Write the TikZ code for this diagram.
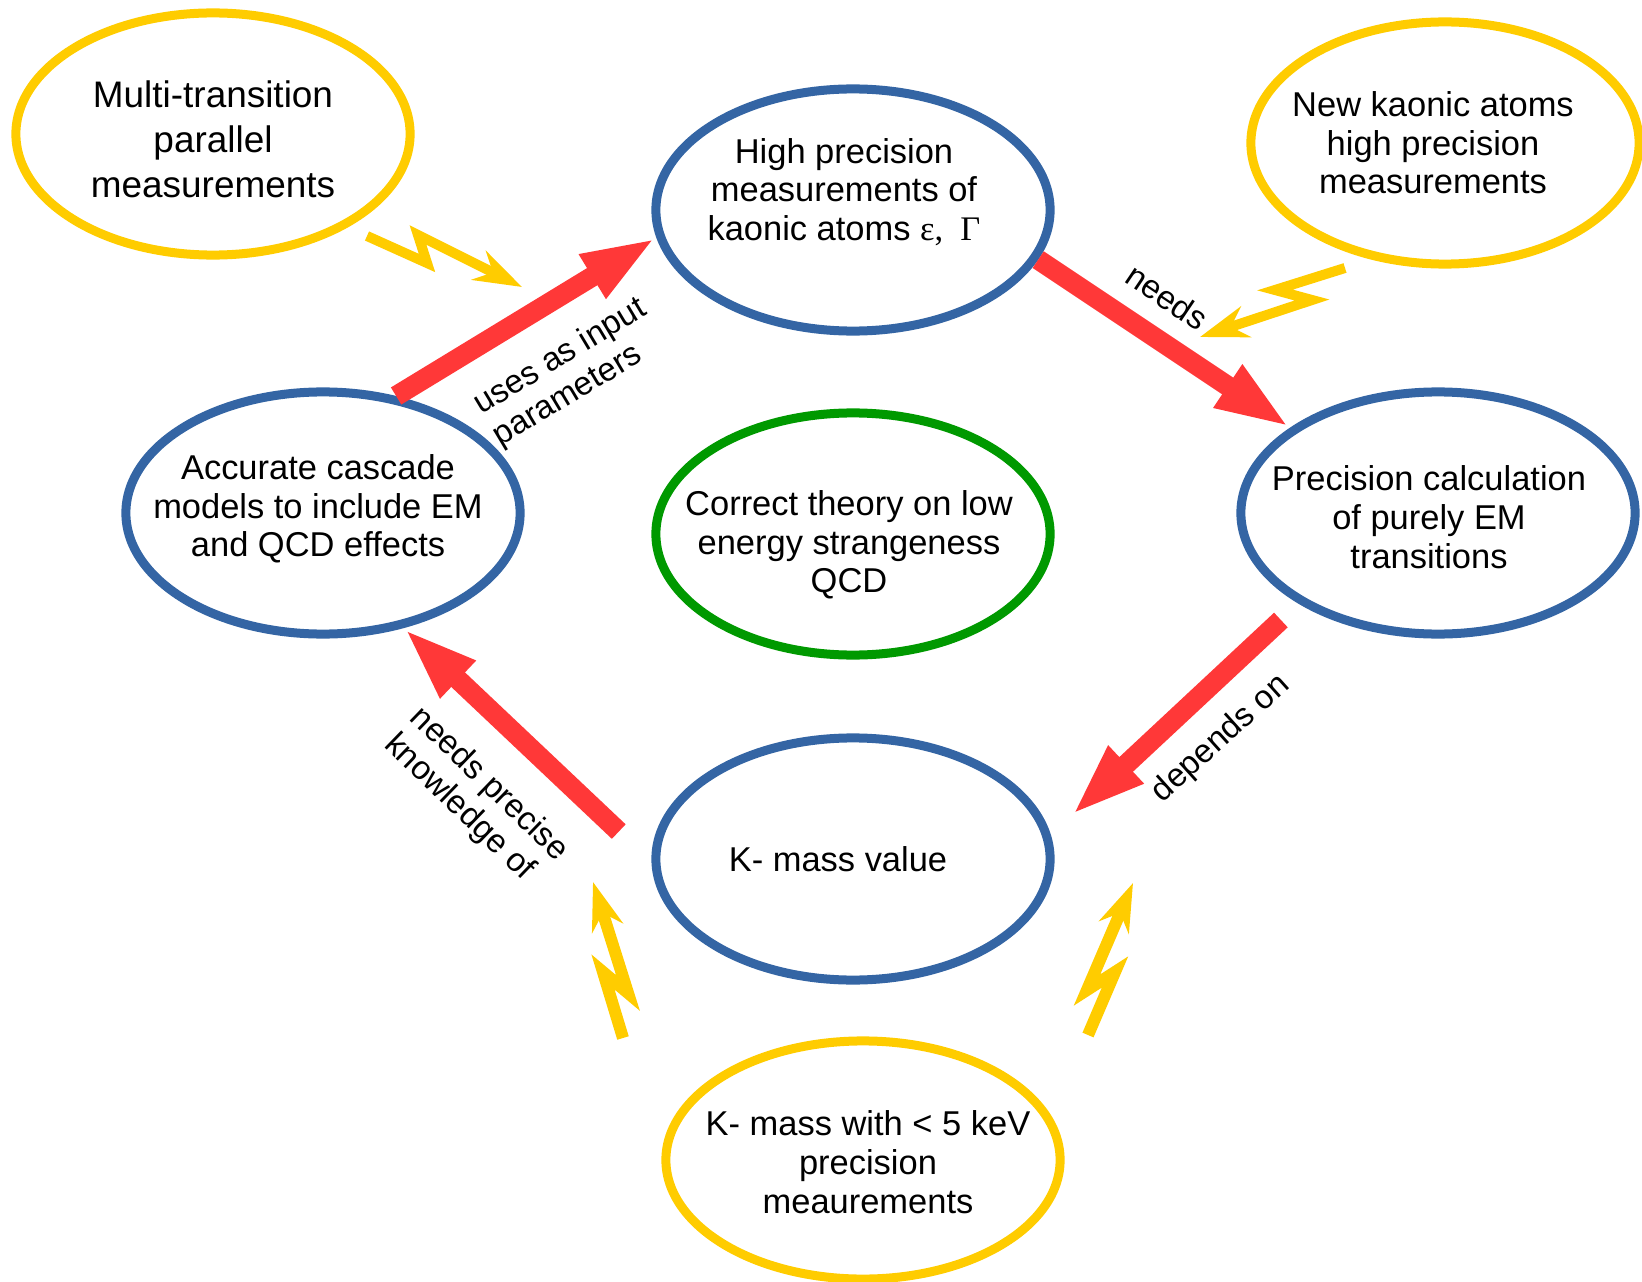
\documentclass[tikz,border=0pt]{standalone}
\usepackage{fontspec}
\setmainfont{Liberation Sans}
\newfontfamily\greekfont{Liberation Serif}
\usetikzlibrary{shapes.geometric, arrows.meta}
\definecolor{ovalblue}{RGB}{52,101,164}
\definecolor{ovalyellow}{RGB}{255,204,0}
\definecolor{ovalgreen}{RGB}{0,153,0}
\definecolor{arrowred}{RGB}{255,56,56}

\begin{document}
\begin{tikzpicture}[
    x=0.01cm, y=-0.01cm,
    oval/.style={ellipse, draw, line width=0.09cm, minimum width=3.94cm, minimum height=2.42cm, inner sep=0pt},
    txt/.style={align=center, font=\fontsize{9.8}{11}\selectfont},
    lbl/.style={align=left, font=\fontsize{9.4}{10.6}\selectfont},
    link/.style={arrowred, line width=0.2cm, -{Triangle[length=0.75cm, width=0.46cm]}},
    bolt/.style={ovalyellow, line width=0.1cm, line join=miter, -{Stealth[length=0.48cm, width=0.32cm]}}
]
\useasboundingbox (0,0) rectangle (1642,1282);

% ovals
\node[oval, ovalyellow] (mtp) at (213,134) {};
\node[oval, ovalblue] (hpm) at (853,210) {};
\node[oval, ovalyellow, minimum width=3.88cm] (nka) at (1445,143) {};
\node[oval, ovalblue] (acm) at (323,513) {};
\node[oval, ovalgreen] (ctq) at (853,534) {};
\node[oval, ovalblue] (pce) at (1438,513) {};
\node[oval, ovalblue] (kmv) at (853,859) {};
\node[oval, ovalyellow, minimum height=2.38cm] (kmp) at (863,1160) {};

% texts
\node[txt, font=\fontsize{10.5}{12.8}\selectfont] (mtp-t) at (213,139) {Multi-transition\\parallel\\measurements};
\node[txt] (hpm-t) at (844,192) {High precision\\measurements of\\kaonic atoms {\greekfont ε,\enspace Γ}};
\node[txt] (nka-t) at (1433,143) {New kaonic atoms\\high precision\\measurements};
\node[txt] (acm-t) at (318,509) {Accurate cascade\\models to include EM\\and QCD effects};
\node[txt] (ctq-t) at (849,545) {Correct theory on low\\energy strangeness\\QCD};
\node[txt] (pce-t) at (1429,517) {Precision calculation\\of purely EM\\transitions};
\node[txt] (kmv-t) at (838,859) {K- mass value};
\node[txt] (kmp-t) at (868,1162) {K- mass with < 5 keV\\precision\\meaurements};

% red arrows
\draw[link] (acm.58) -- (hpm.188);
\draw[link] (hpm.-15) -- (pce.150);
\draw[link, shorten <=0.24cm, shorten >=0.28cm] (pce.213) -- (kmv.7);
\draw[link, shorten <=0.45cm] (kmv.181) -- (acm.-55);

\node[lbl, rotate=31] (l-uses) at (570,373) {uses as input\\parameters};
\node[lbl, rotate=-34] (l-needs) at (1167,297) {needs};
\node[lbl, rotate=42] (l-dep) at (1221,739) {depends on};
\node[lbl, rotate=-44] (l-know) at (476,798) {needs precise\\knowledge of};

% lightning bolts
\coordinate (b1s) at (367,236);
\coordinate (b1a) at (427,263);
\coordinate (b1b) at (418,235);
\coordinate (b1e) at (522,287);
\coordinate (b2s) at (1345,268);
\coordinate (b2a) at (1275,290);
\coordinate (b2b) at (1312,300);
\coordinate (b2e) at (1200,337);
\coordinate (b3s) at (623,1038);
\coordinate (b3a) at (603,972);
\coordinate (b3b) at (628,993);
\coordinate (b3e) at (593,882);
\coordinate (b4s) at (1088,1035);
\coordinate (b4a) at (1115,972);
\coordinate (b4b) at (1087,990);
\coordinate (b4e) at (1133,883);
\draw[bolt] (b1s) -- (b1a) -- (b1b) -- (b1e);
\draw[bolt] (b2s) -- (b2a) -- (b2b) -- (b2e);
\draw[bolt, line width=0.12cm] (b3s) -- (b3a) -- (b3b) -- (b3e);
\draw[bolt, line width=0.12cm] (b4s) -- (b4a) -- (b4b) -- (b4e);
\end{tikzpicture}
\end{document}
